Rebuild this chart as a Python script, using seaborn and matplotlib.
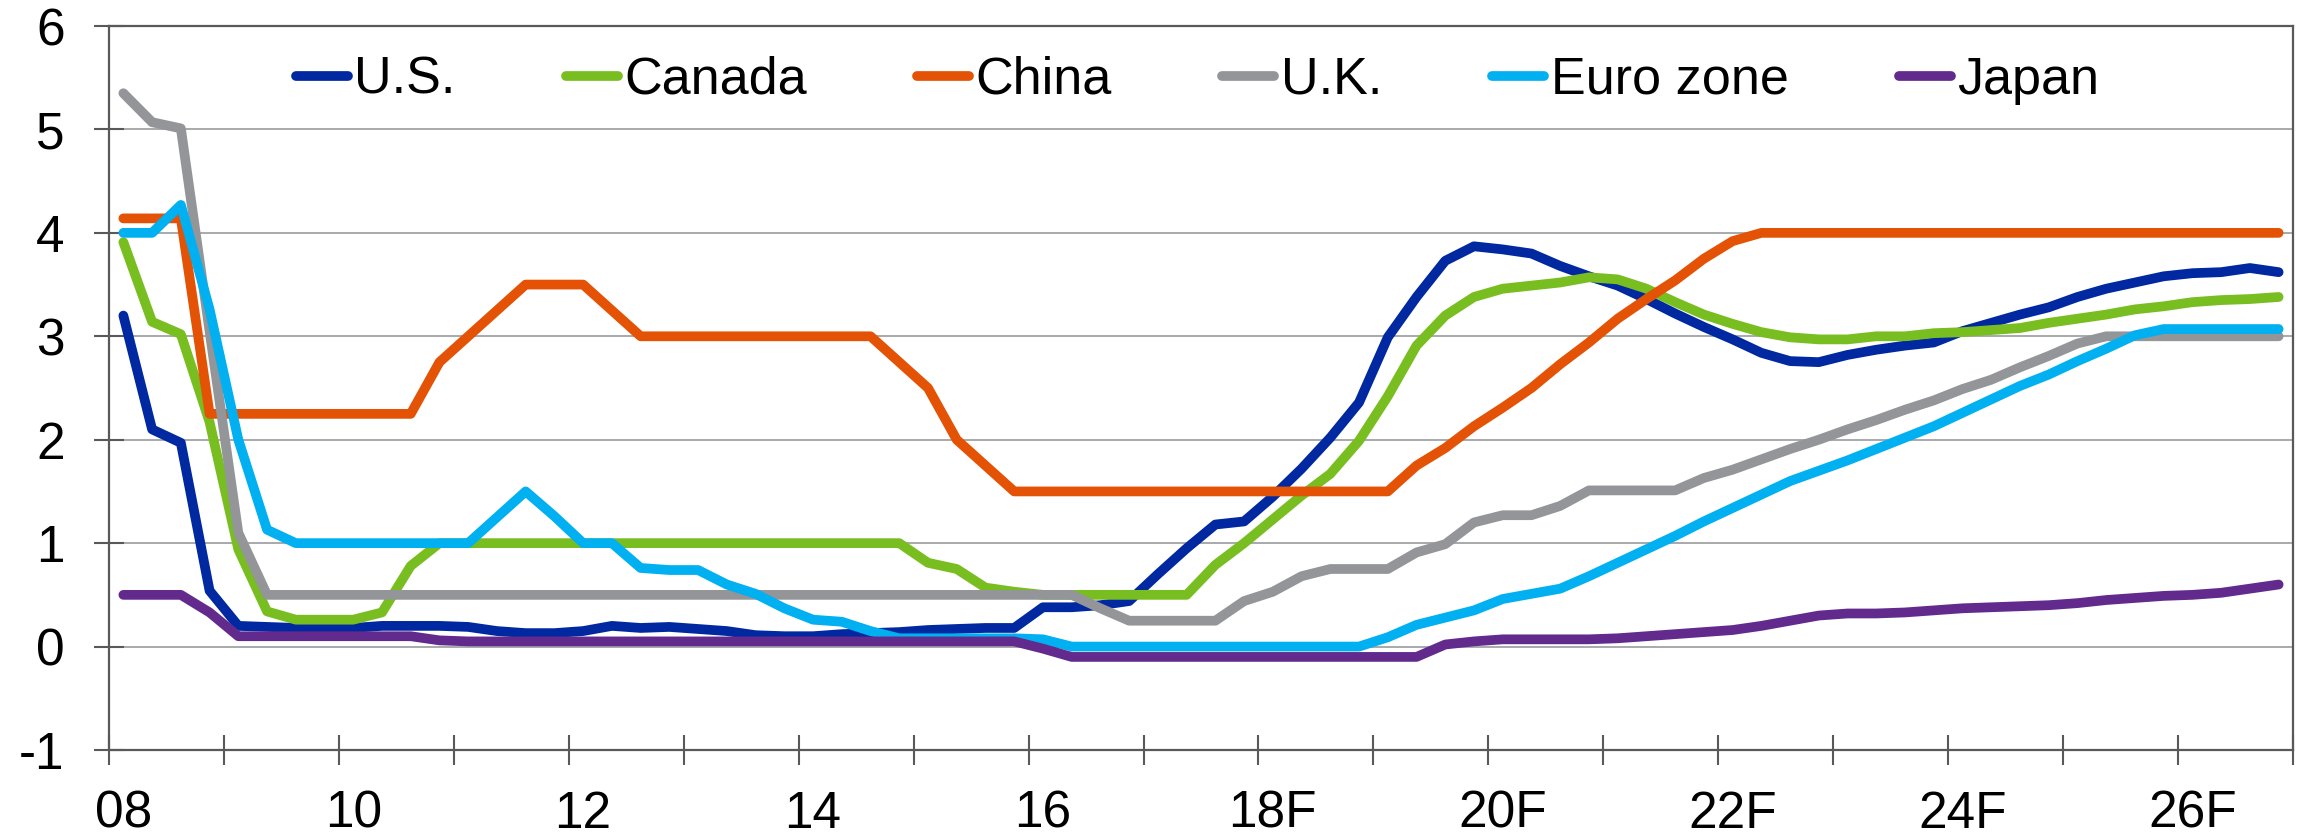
import numpy as np
import pandas as pd
import matplotlib
matplotlib.use("Agg")
import matplotlib.pyplot as plt
from matplotlib.lines import Line2D
from matplotlib.legend_handler import HandlerLine2D
import seaborn as sns

sns.set_theme(style="white")
plt.rcParams["font.family"] = ["Liberation Sans", "DejaVu Sans"]

# quarterly policy rates, 2008Q1 .. 2026Q4 (76 quarters)
us = [3.2, 2.1, 1.97, 0.54, 0.2, 0.19, 0.18, 0.18, 0.18, 0.2, 0.2, 0.2,
      0.19, 0.15, 0.13, 0.13, 0.15, 0.2, 0.18, 0.19, 0.17, 0.15, 0.11, 0.1,
      0.1, 0.12, 0.13, 0.14, 0.16, 0.17, 0.18, 0.18, 0.38, 0.38, 0.4, 0.44,
      0.7, 0.95, 1.18, 1.21, 1.45, 1.72, 2.02, 2.36, 2.99, 3.38, 3.73, 3.87,
      3.84, 3.8, 3.68, 3.58, 3.49, 3.36, 3.22, 3.09, 2.97, 2.84, 2.76, 2.75,
      2.82, 2.87, 2.91, 2.94, 3.05, 3.13, 3.21, 3.28, 3.38, 3.46, 3.52, 3.58,
      3.61, 3.62, 3.66, 3.62]
canada = [3.91, 3.14, 3.02, 2.17, 0.94, 0.34, 0.26, 0.26, 0.26, 0.33, 0.78, 1.0,
          1.0, 1.0, 1.0, 1.0, 1.0, 1.0, 1.0, 1.0, 1.0, 1.0, 1.0, 1.0,
          1.0, 1.0, 1.0, 1.0, 0.81, 0.75, 0.57, 0.53, 0.5, 0.5, 0.5, 0.5,
          0.5, 0.5, 0.79, 1.0, 1.23, 1.46, 1.67, 1.99, 2.42, 2.91, 3.2, 3.38,
          3.46, 3.49, 3.52, 3.57, 3.55, 3.46, 3.33, 3.21, 3.12, 3.04, 2.99, 2.97,
          2.97, 3.0, 3.0, 3.03, 3.04, 3.06, 3.08, 3.13, 3.17, 3.21, 3.26, 3.29,
          3.33, 3.35, 3.36, 3.38]
china = [4.14, 4.14, 4.14, 2.25, 2.25, 2.25, 2.25, 2.25, 2.25, 2.25, 2.25, 2.75,
         3.0, 3.25, 3.5, 3.5, 3.5, 3.25, 3.0, 3.0, 3.0, 3.0, 3.0, 3.0,
         3.0, 3.0, 3.0, 2.75, 2.5, 2.0, 1.75, 1.5, 1.5, 1.5, 1.5, 1.5,
         1.5, 1.5, 1.5, 1.5, 1.5, 1.5, 1.5, 1.5, 1.5, 1.75, 1.92, 2.13,
         2.31, 2.5, 2.73, 2.94, 3.17, 3.36, 3.54, 3.75, 3.92, 4.0, 4.0, 4.0,
         4.0, 4.0, 4.0, 4.0, 4.0, 4.0, 4.0, 4.0, 4.0, 4.0, 4.0, 4.0,
         4.0, 4.0, 4.0, 4.0]
uk = [5.35, 5.07, 5.01, 3.05, 1.1, 0.5, 0.5, 0.5, 0.5, 0.5, 0.5, 0.5,
      0.5, 0.5, 0.5, 0.5, 0.5, 0.5, 0.5, 0.5, 0.5, 0.5, 0.5, 0.5,
      0.5, 0.5, 0.5, 0.5, 0.5, 0.5, 0.5, 0.5, 0.5, 0.5, 0.37, 0.25,
      0.25, 0.25, 0.25, 0.44, 0.53, 0.68, 0.75, 0.75, 0.75, 0.91, 0.99, 1.2,
      1.27, 1.27, 1.36, 1.51, 1.51, 1.51, 1.51, 1.63, 1.71, 1.81, 1.91, 2.0,
      2.1, 2.19, 2.29, 2.38, 2.49, 2.58, 2.7, 2.81, 2.93, 3.0, 3.0, 3.0,
      3.0, 3.0, 3.0, 3.0]
euro = [4.0, 4.0, 4.27, 3.26, 2.0, 1.13, 1.0, 1.0, 1.0, 1.0, 1.0, 1.0,
        1.0, 1.25, 1.5, 1.26, 1.0, 1.0, 0.76, 0.74, 0.74, 0.6, 0.51, 0.37,
        0.26, 0.24, 0.15, 0.08, 0.08, 0.08, 0.08, 0.08, 0.07, 0.0, 0.0, 0.0,
        0.0, 0.0, 0.0, 0.0, 0.0, 0.0, 0.0, 0.0, 0.09, 0.21, 0.28, 0.35,
        0.46, 0.51, 0.56, 0.68, 0.81, 0.94, 1.07, 1.21, 1.34, 1.47, 1.6, 1.7,
        1.8, 1.91, 2.02, 2.13, 2.26, 2.39, 2.52, 2.63, 2.76, 2.88, 3.01, 3.07,
        3.07, 3.07, 3.07, 3.07]
japan = [0.5, 0.5, 0.5, 0.33, 0.1, 0.1, 0.1, 0.1, 0.1, 0.1, 0.1, 0.06,
         0.05, 0.05, 0.05, 0.05, 0.05, 0.05, 0.05, 0.05, 0.05, 0.05, 0.05, 0.05,
         0.05, 0.05, 0.05, 0.05, 0.05, 0.05, 0.05, 0.05, -0.02, -0.1, -0.1, -0.1,
         -0.1, -0.1, -0.1, -0.1, -0.1, -0.1, -0.1, -0.1, -0.1, -0.1, 0.02, 0.05,
         0.07, 0.07, 0.07, 0.07, 0.08, 0.1, 0.12, 0.14, 0.16, 0.2, 0.25, 0.3,
         0.32, 0.32, 0.33, 0.35, 0.37, 0.38, 0.39, 0.4, 0.42, 0.45, 0.47, 0.49,
         0.5, 0.52, 0.56, 0.6]

names = ["U.S.", "Canada", "China", "U.K.", "Euro zone", "Japan"]
colors = ["#0028A0", "#78BE20", "#E35205", "#939598", "#00B0F0", "#622A8C"]
year_labels = ["08", "10", "12", "14", "16", "18F", "20F", "22F", "24F", "26F"]

series = [us, canada, china, uk, euro, japan]
quarter = np.arange(len(us))

fig = plt.figure(figsize=(23.1, 8.4), dpi=100)
ax = fig.add_axes([109 / 2310, 1 - 750 / 840, 2184 / 2310, 724 / 840])

for name, vals, col in zip(names, series, colors):
    sns.lineplot(x=quarter, y=vals, ax=ax, color=col, label=name, linewidth=7,
                 solid_capstyle="round", sort=False)

ax.set_xlim(-0.5, len(us) - 0.5)
ax.set_ylim(-1, 6)
ax.set_yticks(range(-1, 7))
ax.set_yticklabels([str(v) for v in range(-1, 7)])

# ticks between year groups, labels on first quarter of even years
ax.set_xticks(np.arange(-0.5, len(us), 4))
ax.set_xticklabels([])
ax.set_xticks(np.arange(0, len(us), 8), minor=True)
ax.set_xticklabels(year_labels, minor=True)
ax.tick_params(axis="x", which="major", direction="inout", length=22, width=1.5,
               color="#595959", bottom=True)
ax.tick_params(axis="x", which="minor", length=0, pad=28.5, labelsize=37, labelcolor="black")
ax.tick_params(axis="y", direction="inout", length=22, width=1.5, color="#595959",
               left=True, pad=21, labelsize=37, labelcolor="black")

ax.set_xlabel("")
ax.set_ylabel("")
ax.yaxis.grid(True, color="#A0A2A5", linewidth=1.3)
ax.xaxis.grid(False)
ax.set_axisbelow(True)
for sp in ax.spines.values():
    sp.set_color("#595959")
    sp.set_linewidth(1.6)

leg = ax.legend(loc="center left", bbox_to_anchor=(0.0855, 0.925), ncol=6, frameon=False,
                fontsize=37.5, handlelength=1.0, handletextpad=0.12, columnspacing=2.12,
                borderpad=0, borderaxespad=0,
                handler_map={Line2D: HandlerLine2D(marker_pad=0)})
for t in leg.get_texts():
    t.set_color("black")

plt.savefig("out.png", dpi=100)
